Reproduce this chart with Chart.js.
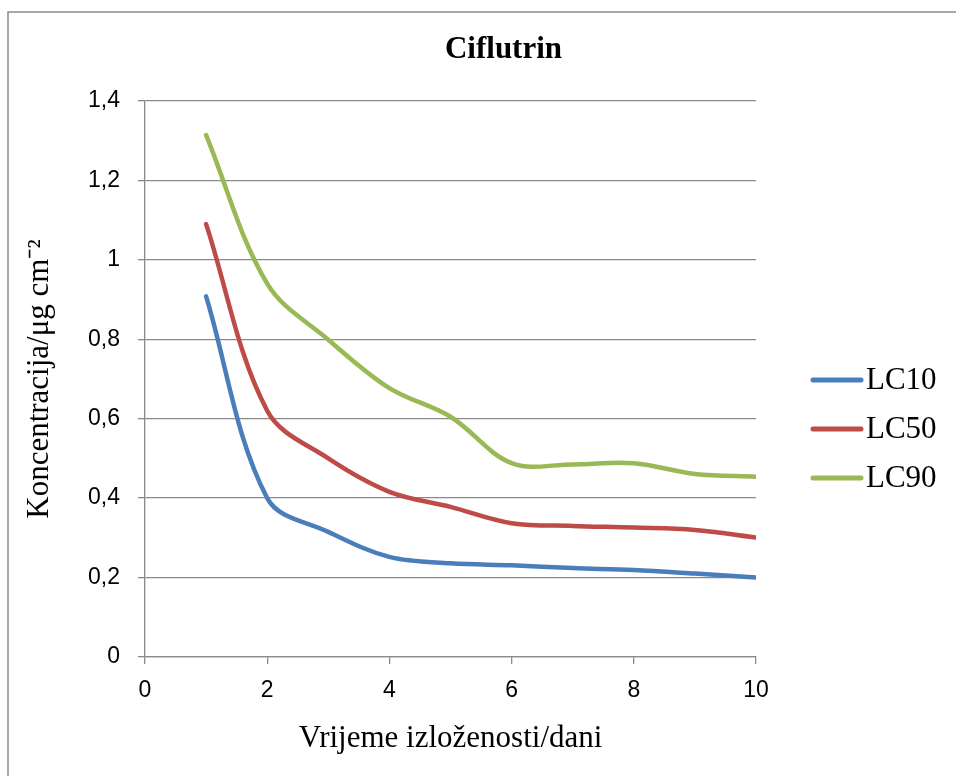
<!DOCTYPE html>
<html>
<head>
<meta charset="utf-8">
<title>Ciflutrin</title>
<script src="https://cdn.jsdelivr.net/npm/chart.js@4/dist/chart.umd.min.js"></script>
<style>
  html, body { margin: 0; padding: 0; background: #ffffff; }
  #wrap { width: 956px; height: 776px; }
</style>
</head>
<body>
<div id="wrap"><canvas id="c" width="956" height="776"></canvas></div>
<script>
// Exposure time in days
const days = [1, 2, 3, 4, 5, 6, 7, 8, 9, 10];

// Lethal concentrations, µg cm⁻²
const lc10 = [0.908, 0.400, 0.315, 0.252, 0.236, 0.231, 0.224, 0.219, 0.210, 0.200];
const lc50 = [1.090, 0.620, 0.500, 0.416, 0.378, 0.337, 0.330, 0.326, 0.320, 0.301];
const lc90 = [1.314, 0.940, 0.799, 0.677, 0.605, 0.488, 0.485, 0.488, 0.461, 0.454];

const seriesNames = ['LC10', 'LC50', 'LC90'];
const seriesColors = ['#4A7EBB', '#BE4B48', '#98B954'];

const xTickLabels = ['0', '2', '4', '6', '8', '10'];
const yTickLabels = ['0', '0,2', '0,4', '0,6', '0,8', '1', '1,2', '1,4'];

const chartTitle = 'Ciflutrin';
const xTitle = 'Vrijeme izloženosti/dani';
const yTitle = 'Koncentracija/μg cm⁻²';

const serif = '"Liberation Serif", "Times New Roman", serif';
const sans = '"Liberation Sans", Arial, sans-serif';
const gridColor = '#8a8a8a';

function toPoints(values) {
  return days.map((d, i) => ({ x: d, y: values[i] }));
}

const seriesValues = [lc10, lc50, lc90];

// Outer frame, centred title and the legend on the right
const decorations = {
  id: 'decorations',
  beforeDraw(chart) {
    const ctx = chart.ctx;
    ctx.save();
    ctx.strokeStyle = '#8c8c8c';
    ctx.lineWidth = 1.5;
    ctx.strokeRect(8, 12, chart.width + 20, chart.height + 20);
    ctx.restore();
  },
  afterDraw(chart) {
    const ctx = chart.ctx;
    const area = chart.chartArea;
    ctx.save();
    // title
    ctx.fillStyle = '#000000';
    ctx.font = 'bold 31px ' + serif;
    ctx.textAlign = 'center';
    ctx.textBaseline = 'middle';
    ctx.fillText(chartTitle, (area.left + area.right) / 2 + 53, 50);

    // legend
    const midY = (area.top + area.bottom) / 2 + 50;
    const rowGap = 49;
    const x0 = area.right + 57;
    const lineLen = 48;
    chart.data.datasets.forEach((ds, i) => {
      const y = midY + (i - 1) * rowGap;
      ctx.strokeStyle = ds.borderColor;
      ctx.lineWidth = 5;
      ctx.lineCap = 'round';
      ctx.beginPath();
      ctx.moveTo(x0, y);
      ctx.lineTo(x0 + lineLen, y);
      ctx.stroke();
      ctx.fillStyle = '#000000';
      ctx.font = '31px ' + serif;
      ctx.textAlign = 'left';
      ctx.textBaseline = 'middle';
      ctx.fillText(ds.label, x0 + lineLen + 5, y + 1);
    });
    ctx.restore();
  }
};

new Chart(document.getElementById('c'), {
  type: 'line',
  data: {
    datasets: seriesNames.map((name, i) => ({
      label: name,
      data: toPoints(seriesValues[i]),
      borderColor: seriesColors[i],
      backgroundColor: seriesColors[i],
      borderWidth: 4.5,
      borderCapStyle: 'round',
      borderJoinStyle: 'round',
      pointRadius: 0,
      pointHoverRadius: 0,
      tension: 0.35,
      fill: false
    }))
  },
  options: {
    responsive: false,
    animation: false,
    devicePixelRatio: 1,
    layout: { padding: { top: 101, right: 200, bottom: 0, left: 0 } },
    plugins: {
      legend: { display: false },
      title: { display: false },
      tooltip: { enabled: false }
    },
    scales: {
      x: {
        type: 'linear',
        min: 0,
        max: 10,
        afterFit(scale) { scale.height = 119; },
        afterBuildTicks(scale) {
          scale.ticks = xTickLabels.map(t => ({ value: Number(t) }));
        },
        ticks: {
          color: '#000000',
          font: { family: sans, size: 23 },
          padding: 13,
          maxRotation: 0,
          callback: (v, i) => xTickLabels[i]
        },
        grid: {
          display: true,
          drawOnChartArea: false,
          drawTicks: true,
          tickLength: 7,
          color: gridColor,
          lineWidth: 1.3
        },
        border: { display: true, color: gridColor, width: 1.3 },
        title: {
          display: true,
          text: xTitle,
          color: '#000000',
          font: { family: serif, size: 31 },
          padding: { top: 0, bottom: 19 }
        }
      },
      y: {
        type: 'linear',
        min: 0,
        max: 1.4,
        afterFit(scale) { scale.width = 145; },
        afterBuildTicks(scale) {
          scale.ticks = yTickLabels.map(t => ({ value: Number(t.replace(',', '.')) }));
        },
        ticks: {
          color: '#000000',
          font: { family: sans, size: 23 },
          padding: 18,
          callback: (v, i) => yTickLabels[i]
        },
        grid: {
          display: true,
          drawTicks: true,
          tickLength: 7,
          color: gridColor,
          lineWidth: 1.3
        },
        border: { display: true, color: gridColor, width: 1.3 },
        title: {
          display: true,
          text: yTitle,
          color: '#000000',
          font: { family: serif, size: 31 },
          padding: { top: 21, bottom: 0 }
        }
      }
    }
  },
  plugins: [decorations]
});
</script>
</body>
</html>
